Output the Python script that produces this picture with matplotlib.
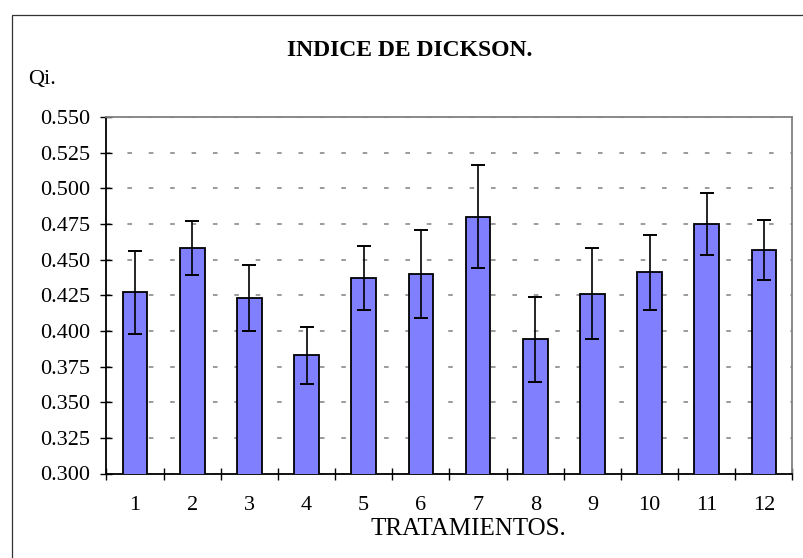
import matplotlib
matplotlib.use("Agg")
import matplotlib.pyplot as plt
from matplotlib.patches import Rectangle
from matplotlib.ticker import FormatStrFormatter
import numpy as np

# datos
tratamientos = ["1", "2", "3", "4", "5", "6", "7", "8", "9", "10", "11", "12"]
qi_medias = [0.427, 0.458, 0.423, 0.383, 0.437, 0.440, 0.480, 0.394, 0.426, 0.441, 0.475, 0.457]
qi_error = [0.029, 0.019, 0.023, 0.020, 0.0225, 0.031, 0.036, 0.030, 0.032, 0.026, 0.022, 0.021]
y_ticks = [0.300, 0.325, 0.350, 0.375, 0.400, 0.425, 0.450, 0.475, 0.500, 0.525, 0.550]

plt.rcParams['font.family'] = ['Liberation Serif', 'DejaVu Serif']

W, H = 804, 558
fig = plt.figure(figsize=(W / 100, H / 100), dpi=100)

# marco del area del grafico
fig.patches.append(Rectangle((12 / W, -0.1), 1.2, 1.1 - 15 / H, transform=fig.transFigure,
                             fill=False, edgecolor='#333333', linewidth=0.9))

ax = fig.add_axes([106.5 / W, 1 - 473.5 / H, 686 / W, (473.5 - 117) / H])

x = np.arange(len(tratamientos))
ax.bar(x, qi_medias, width=0.43, color='#8080FF', edgecolor='black', linewidth=1.3, zorder=3)
ax.errorbar(x, qi_medias, yerr=qi_error, fmt='none', ecolor='black', elinewidth=1.2,
            capsize=5.3, capthick=1.4, zorder=4)

ax.set_xlim(-0.5, len(tratamientos) - 0.5)
ax.set_ylim(0.300, 0.550)
ax.set_yticks(y_ticks)
ax.yaxis.set_major_formatter(FormatStrFormatter('%.3f'))
ax.grid(axis='y', color='#808080', linestyle=(0, (3, 11)), linewidth=1.1, zorder=0)

ax.set_xticks(np.arange(-0.5, len(tratamientos)))
ax.set_xticklabels([])
ax.set_xticks(x, minor=True)
ax.set_xticklabels(tratamientos, minor=True)
ax.tick_params(axis='x', which='major', direction='inout', length=8, width=1)
ax.tick_params(axis='x', which='minor', length=0, pad=16, labelsize=16)
ax.tick_params(axis='y', direction='inout', length=8, width=1, pad=8, labelsize=16)

for s in ['left', 'bottom']:
    ax.spines[s].set_color('black')
    ax.spines[s].set_linewidth(1.3)
for s in ['top', 'right']:
    ax.spines[s].set_color('#808080')
    ax.spines[s].set_linewidth(1.3)

ax.set_xlabel('TRATAMIENTOS.', fontsize=18, labelpad=0)
ax.xaxis.set_label_coords(0.527, (473.5 - 529) / (473.5 - 117))
ax.xaxis.label.set_va('center')

fig.text(410 / W, 1 - 51 / H, 'INDICE DE DICKSON.', fontsize=17, fontweight='bold',
         ha='center', va='center')
fig.text(28 / W, 1 - 84 / H, 'Qi.', fontsize=16, ha='left', va='baseline')

fig.savefig('out.png', dpi=100)
